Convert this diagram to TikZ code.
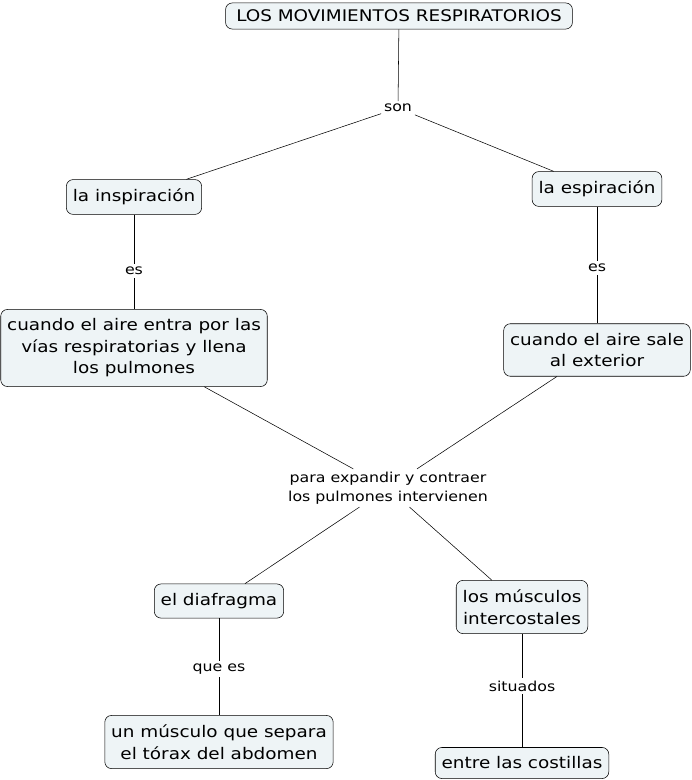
\documentclass[tikz,border=0pt]{standalone}
\usepackage{fontspec}
\setmainfont{DejaVu Sans}[FakeStretch=1.15]
\usepackage{xcolor}
\usetikzlibrary{positioning}

\definecolor{conceptfill}{HTML}{EEF4F6}

\begin{document}
\begin{tikzpicture}[
    x=0.75pt, y=-0.75pt,
    concept/.style={draw, thin, fill=conceptfill, rounded corners=5pt, align=center,
        inner xsep=4.8pt, inner ysep=7pt, font=\fontsize{12}{16.1}\selectfont},
    linkword/.style={align=center, inner sep=2pt, font=\fontsize{10.3}{14.3}\selectfont},
    every path/.style={thin}
]
    \useasboundingbox (0,0) rectangle (691,780);

    % concepts
    \node[concept, inner xsep=8pt, inner ysep=5.25pt] (mov) at (399,16) {LOS MOVIMIENTOS RESPIRATORIOS};
    \node[concept] (insp) at (134,197) {la inspiración};
    \node[concept] (esp) at (597,189) {la espiración};
    \node[concept] (entra) at (134,348) {cuando el aire entra por las\\vías respiratorias y llena\\los pulmones};
    \node[concept] (sale) at (597,350) {cuando el aire sale\\al exterior};
    \node[concept] (diaf) at (219,601) {el diafragma};
    \node[concept] (musc) at (522,607) {los músculos\\intercostales};
    \node[concept] (separa) at (219,742) {un músculo que separa\\el tórax del abdomen};
    \node[concept] (cost) at (522,763) {entre las costillas};

    % linking words
    \node[linkword] (son) at (398,108) {son};
    \node[linkword] (es1) at (134,271) {es};
    \node[linkword] (es2) at (597,268) {es};
    \node[linkword] (para) at (388,488) {para expandir y contraer\\los pulmones intervienen};
    \node[linkword] (quees) at (219,669) {que es};
    \node[linkword] (sit) at (522,686) {situados};

    \draw (mov) -- (son);
    \draw (son) -- (insp);
    \draw (son) -- (esp);
    \draw (insp) -- (es1) -- (entra);
    \draw (esp) -- (es2) -- (sale);
    \draw (entra) -- (para);
    \draw (sale) -- (para);
    \draw (para) -- (diaf);
    \draw (para) -- (musc);
    \draw (diaf) -- (quees) -- (separa);
    \draw (musc) -- (sit) -- (cost);
\end{tikzpicture}
\end{document}
